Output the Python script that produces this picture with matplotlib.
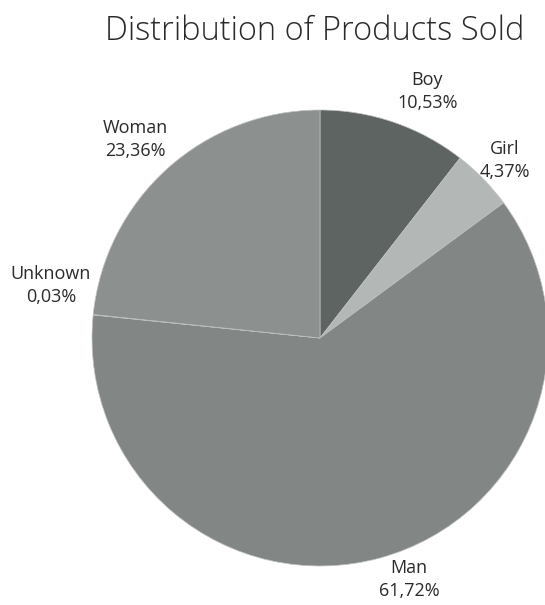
import matplotlib.pyplot as plt

# Data
categories = ["Boy", "Girl", "Man", "Unknown", "Woman"]
shares = [10.53, 4.37, 61.72, 0.03, 23.36]
label_text = ["10,53%", "4,37%", "61,72%", "0,03%", "23,36%"]

colors = ["#5e6461", "#b3b7b6", "#828785", "#8a8e8c", "#8c908f"]
# label positions in pie units (radius = 1)
label_pos = [(0.47, 1.08), (0.81, 0.78), (0.39, -1.06), (-1.18, 0.23), (-0.81, 0.87)]

plt.rcParams["font.family"] = ["Open Sans", "DejaVu Sans"]

fig = plt.figure(figsize=(5.45, 6.05), dpi=100)
W, H = 545, 605
cx, cy, r = 320, 338, 228
ax = fig.add_axes([(cx - r) / W, (H - cy - r) / H, 2 * r / W, 2 * r / H])
ax.pie(shares, colors=colors, startangle=90, counterclock=False, radius=1,
       wedgeprops=dict(linewidth=0.5, edgecolor="#bfc2c1"))
ax.set_xlim(-1, 1)
ax.set_ylim(-1, 1)
ax.set_aspect("equal")
ax.axis("off")

for name, txt, (x, y) in zip(categories, label_text, label_pos):
    ax.text(x, y, name + "\n" + txt, ha="center", va="center", fontsize=13,
            color="#2a2a2a", linespacing=1.35, clip_on=False)

fig.text(315 / W, 1 - 31 / H, "Distribution of Products Sold", ha="center",
         va="center", fontsize=23.5, fontweight="light", color="#2a2a2a")

fig.savefig("out.png", dpi=100)
